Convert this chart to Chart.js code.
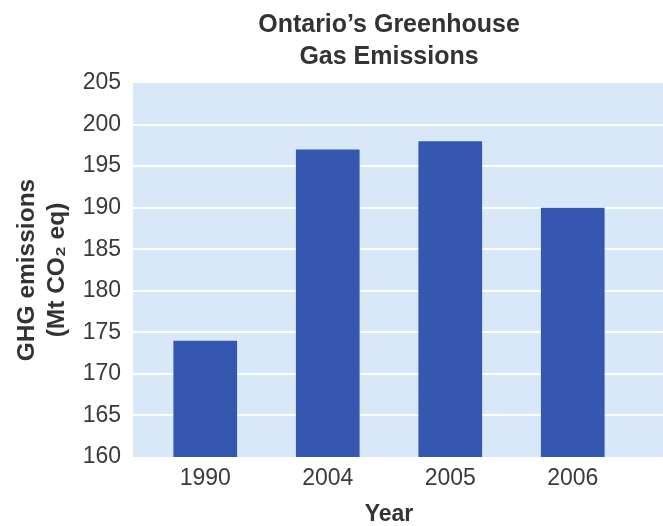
<!DOCTYPE html>
<html lang="en">
<head>
    <meta charset="UTF-8">
    <title>Ontario GHG</title>
    <style>
        html, body {
            margin: 0;
            padding: 0;
            background: #ffffff;
        }
        canvas {
            display: block;
        }
    </style>
</head>
<body>
    <canvas id="ghg-chart" width="663" height="526"></canvas>
    <script src="https://cdn.jsdelivr.net/npm/chart.js"></script>

    <script>
        // DATA
        const years = ["1990", "2004", "2005", "2006"]
        const emissions = [174, 197, 198, 190]   // Mt CO2 eq
        const yTicks = [160, 165, 170, 175, 180, 185, 190, 195, 200, 205]

        const titleLines = ["Ontario\u2019s Greenhouse", "Gas Emissions"]
        const yTitleLines = ["GHG emissions", "(Mt CO\u2082 eq)"]
        const xTitle = "Year"
    </script>

    <script>
        const FONT = "'Liberation Sans', Arial, Helvetica, sans-serif";
        const plotBg = '#d9e8f9';
        const barColor = '#3457af';

        // light blue plot panel + white horizontal rules, drawn under the bars
        const panelPlugin = {
            id: 'panel',
            beforeDatasetsDraw(chart) {
                const {ctx, chartArea} = chart;
                const y = chart.scales.y;
                const left = chartArea.left - 11;
                const right = chart.width;
                ctx.save();
                ctx.fillStyle = plotBg;
                ctx.fillRect(left, chartArea.top, right - left, chartArea.bottom - chartArea.top);
                ctx.strokeStyle = '#ffffff';
                ctx.lineWidth = 2;
                yTicks.slice(1, -1).forEach(v => {
                    const py = Math.round(y.getPixelForValue(v));
                    ctx.beginPath();
                    ctx.moveTo(left, py);
                    ctx.lineTo(right, py);
                    ctx.stroke();
                });
                ctx.restore();
            }
        };

        const config = {
            type: 'bar',
            data: {
                labels: years,
                datasets: [{
                    label: 'GHG emissions',
                    data: emissions,
                    backgroundColor: barColor,
                    borderWidth: 0,
                    barPercentage: 0.52,
                    categoryPercentage: 1
                }]
            },
            options: {
                responsive: false,
                animation: false,
                layout: {
                    padding: { left: 0, right: 29, top: 0, bottom: 0 }
                },
                scales: {
                    x: {
                        grid: { display: false, drawTicks: false },
                        border: { display: false },
                        ticks: {
                            color: '#3a3a3a',
                            padding: 8,
                            font: { family: FONT, size: 23 }
                        },
                        title: {
                            display: true,
                            text: xTitle,
                            color: '#333333',
                            padding: { top: 0, bottom: 0 },
                            font: { family: FONT, size: 23, weight: 'bold', lineHeight: 1 }
                        },
                        afterFit(axis) {
                            axis.height = 69;
                        }
                    },
                    y: {
                        min: yTicks[0],
                        max: yTicks[yTicks.length - 1],
                        grid: { display: false, drawTicks: false },
                        border: { display: false },
                        afterBuildTicks(axis) {
                            axis.ticks = yTicks.map(v => ({ value: v }));
                        },
                        ticks: {
                            color: '#3a3a3a',
                            padding: 23,
                            font: { family: FONT, size: 23 }
                        },
                        title: {
                            display: true,
                            text: yTitleLines,
                            color: '#333333',
                            padding: { top: 12, bottom: 0 },
                            font: { family: FONT, size: 24.5, weight: 'bold', lineHeight: 1.22 }
                        },
                        afterFit(axis) {
                            axis.width = 144;
                        }
                    }
                },
                plugins: {
                    legend: { display: false },
                    tooltip: { enabled: false },
                    title: {
                        display: true,
                        text: titleLines,
                        fullSize: false,
                        color: '#333333',
                        padding: { top: 9, bottom: 10 },
                        font: { family: FONT, size: 25, weight: 'bold', lineHeight: 1.28 }
                    }
                }
            },
            plugins: [panelPlugin]
        };

        // renders chart
        new Chart(document.getElementById('ghg-chart'), config);
    </script>
</body>
</html>
